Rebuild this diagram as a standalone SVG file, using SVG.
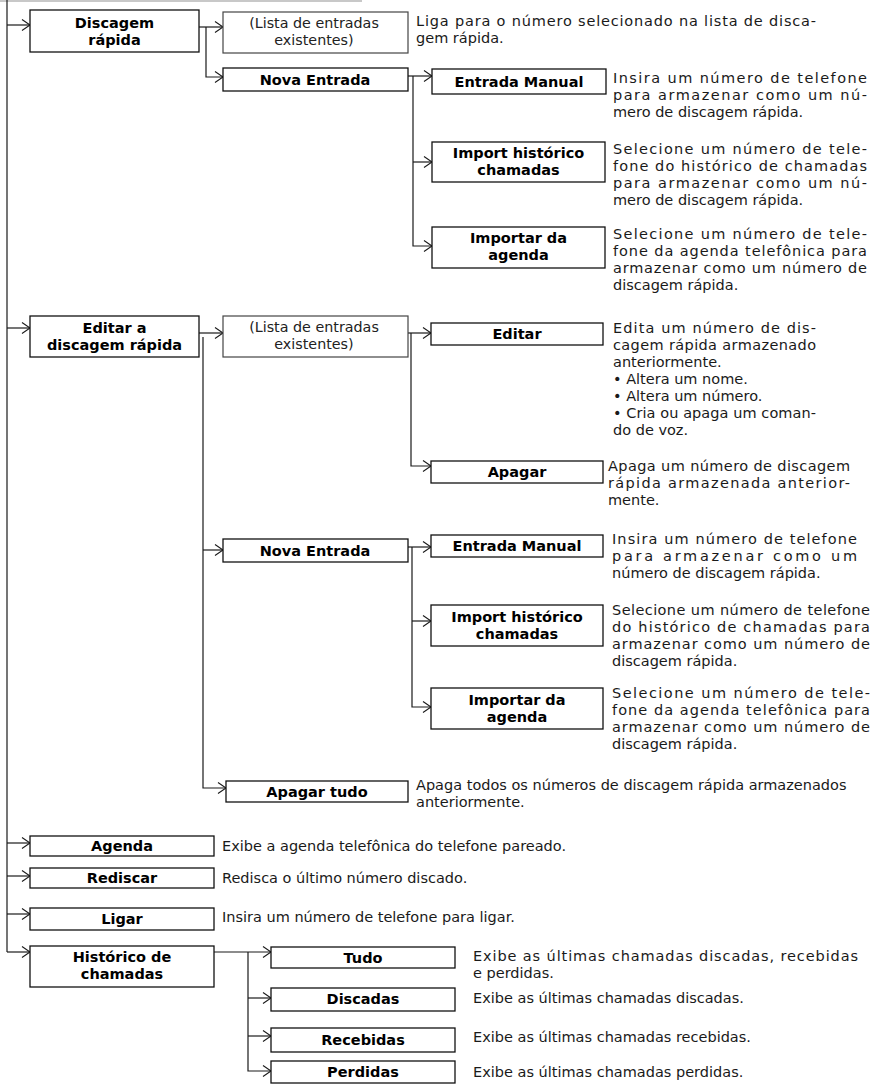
<svg xmlns="http://www.w3.org/2000/svg" width="875" height="1085" viewBox="0 0 875 1085">
<defs>
<style>
.box{fill:#fff;stroke:#111;stroke-width:1.3}
.lbox{fill:#fff;stroke:#444;stroke-width:1.2}
.lbl{font-family:"DejaVu Sans","Open Sans",sans-serif;font-weight:700;font-size:14.5px;fill:#000;text-anchor:middle}
.lst{font-family:"DejaVu Sans","Open Sans",sans-serif;font-size:14.3px;fill:#222;text-anchor:middle}
.dsc{font-family:"DejaVu Sans","Open Sans",sans-serif;font-size:14.5px;fill:#1a1a1a}
.con{fill:none;stroke:#1a1a1a;stroke-width:1.2}
.arr{fill:none;stroke:#1a1a1a;stroke-width:1.1}
</style>
<marker id="ar" viewBox="-9 -7 10 14" refX="0" refY="0" markerWidth="10" markerHeight="14" markerUnits="userSpaceOnUse" orient="auto">
<path class="arr" d="M-8,-5.5 L0,0 L-8,5.5"/>
</marker>
</defs>
<rect x="0" y="0" width="362" height="2" fill="#c8c8c8"/>

<g id="connectors">
<path class="con" d="M7,0 V952"/>
<path class="con" d="M7,25 H30" marker-end="url(#ar)"/>
<path class="con" d="M199,27 H223" marker-end="url(#ar)"/>
<path class="con" d="M206,27 V77 H223" marker-end="url(#ar)"/>
<path class="con" d="M408,76 H432" marker-end="url(#ar)"/>
<path class="con" d="M413,76 V246 H432" marker-end="url(#ar)"/>
<path class="con" d="M413,162 H432" marker-end="url(#ar)"/>
<path class="con" d="M7,328 H30" marker-end="url(#ar)"/>
<path class="con" d="M199,333 H223" marker-end="url(#ar)"/>
<path class="con" d="M203,337 V788 H226" marker-end="url(#ar)"/>
<path class="con" d="M203,550 H223" marker-end="url(#ar)"/>
<path class="con" d="M408,333 H431" marker-end="url(#ar)"/>
<path class="con" d="M411,333 V466 H431" marker-end="url(#ar)"/>
<path class="con" d="M408,547 H431" marker-end="url(#ar)"/>
<path class="con" d="M412,547 V707 H431" marker-end="url(#ar)"/>
<path class="con" d="M412,621 H431" marker-end="url(#ar)"/>
<path class="con" d="M7,843 H30" marker-end="url(#ar)"/>
<path class="con" d="M7,876 H30" marker-end="url(#ar)"/>
<path class="con" d="M7,914 H30" marker-end="url(#ar)"/>
<path class="con" d="M7,952 H30" marker-end="url(#ar)"/>
<path class="con" d="M214,952 H271" marker-end="url(#ar)"/>
<path class="con" d="M248,952 V1071 H271" marker-end="url(#ar)"/>
<path class="con" d="M248,998 H271" marker-end="url(#ar)"/>
<path class="con" d="M248,1036 H271" marker-end="url(#ar)"/>
</g>

<g id="discagem-rapida">
<rect class="box" x="30" y="10" width="169" height="42"/>
<text class="lbl"><tspan x="114.5" y="28">Discagem</tspan><tspan x="114.5" y="45">rápida</tspan></text>
</g>
<g id="lista-1">
<rect class="lbox" x="223" y="12" width="185" height="41"/>
<text class="lst"><tspan x="314" y="28">(Lista de entradas</tspan><tspan x="314" y="45">existentes)</tspan></text>
</g>
<g id="desc-lista-1">
<text class="dsc"><tspan x="416" y="26" textLength="400" lengthAdjust="spacing">Liga para o número selecionado na lista de disca-</tspan><tspan x="416" y="43">gem rápida.</tspan></text>
</g>
<g id="nova-entrada-1">
<rect class="box" x="223" y="68" width="185" height="23"/>
<text class="lbl" x="315" y="85">Nova Entrada</text>
</g>
<g id="entrada-manual-1">
<rect class="box" x="432" y="69" width="174" height="25"/>
<text class="lbl" x="519" y="87">Entrada Manual</text>
<text class="dsc"><tspan x="613" y="83" textLength="254" lengthAdjust="spacing">Insira um número de telefone</tspan><tspan x="613" y="100" textLength="254" lengthAdjust="spacing">para armazenar como um nú-</tspan><tspan x="613" y="117">mero de discagem rápida.</tspan></text>
</g>
<g id="import-historico-1">
<rect class="box" x="432" y="142" width="173" height="40"/>
<text class="lbl"><tspan x="518.5" y="158">Import histórico</tspan><tspan x="518.5" y="175">chamadas</tspan></text>
<text class="dsc"><tspan x="613" y="154" textLength="254" lengthAdjust="spacing">Selecione um número de tele-</tspan><tspan x="613" y="171" textLength="254" lengthAdjust="spacing">fone do histórico de chamadas</tspan><tspan x="613" y="188" textLength="254" lengthAdjust="spacing">para armazenar como um nú-</tspan><tspan x="613" y="205">mero de discagem rápida.</tspan></text>
</g>
<g id="importar-agenda-1">
<rect class="box" x="432" y="227" width="173" height="41"/>
<text class="lbl"><tspan x="518.5" y="243">Importar da</tspan><tspan x="518.5" y="260">agenda</tspan></text>
<text class="dsc"><tspan x="613" y="239" textLength="254" lengthAdjust="spacing">Selecione um número de tele-</tspan><tspan x="613" y="256" textLength="254" lengthAdjust="spacing">fone da agenda telefônica para</tspan><tspan x="613" y="273" textLength="254" lengthAdjust="spacing">armazenar como um número de</tspan><tspan x="613" y="290">discagem rápida.</tspan></text>
</g>

<g id="editar-discagem">
<rect class="box" x="30" y="316" width="169" height="41"/>
<text class="lbl"><tspan x="114.5" y="333">Editar a</tspan><tspan x="114.5" y="350">discagem rápida</tspan></text>
</g>
<g id="lista-2">
<rect class="lbox" x="223" y="316" width="185" height="41"/>
<text class="lst"><tspan x="314" y="332">(Lista de entradas</tspan><tspan x="314" y="349">existentes)</tspan></text>
</g>
<g id="editar">
<rect class="box" x="431" y="323" width="172" height="22"/>
<text class="lbl" x="517" y="339">Editar</text>
<text class="dsc"><tspan x="613" y="333" textLength="203" lengthAdjust="spacing">Edita um número de dis-</tspan><tspan x="613" y="350" textLength="203" lengthAdjust="spacing">cagem rápida armazenado</tspan><tspan x="613" y="367">anteriormente.</tspan><tspan x="613" y="384">• Altera um nome.</tspan><tspan x="613" y="401">• Altera um número.</tspan><tspan x="613" y="418" textLength="203" lengthAdjust="spacing">• Cria ou apaga um coman-</tspan><tspan x="613" y="435">do de voz.</tspan></text>
</g>
<g id="apagar">
<rect class="box" x="431" y="461" width="172" height="22"/>
<text class="lbl" x="517" y="477">Apagar</text>
<text class="dsc"><tspan x="608" y="471" textLength="242" lengthAdjust="spacing">Apaga um número de discagem</tspan><tspan x="608" y="488" textLength="242" lengthAdjust="spacing">rápida armazenada anterior-</tspan><tspan x="608" y="505">mente.</tspan></text>
</g>
<g id="nova-entrada-2">
<rect class="box" x="223" y="539" width="185" height="23"/>
<text class="lbl" x="315" y="556">Nova Entrada</text>
</g>
<g id="entrada-manual-2">
<rect class="box" x="431" y="535" width="172" height="22"/>
<text class="lbl" x="517" y="551">Entrada Manual</text>
<text class="dsc"><tspan x="612" y="544" textLength="245" lengthAdjust="spacing">Insira um número de telefone</tspan><tspan x="612" y="561" textLength="245" lengthAdjust="spacing">para armazenar como um</tspan><tspan x="612" y="578">número de discagem rápida.</tspan></text>
</g>
<g id="import-historico-2">
<rect class="box" x="431" y="605" width="172" height="41"/>
<text class="lbl"><tspan x="517" y="622">Import histórico</tspan><tspan x="517" y="639">chamadas</tspan></text>
<text class="dsc"><tspan x="612" y="615" textLength="258" lengthAdjust="spacing">Selecione um número de telefone</tspan><tspan x="612" y="632" textLength="258" lengthAdjust="spacing">do histórico de chamadas para</tspan><tspan x="612" y="649" textLength="258" lengthAdjust="spacing">armazenar como um número de</tspan><tspan x="612" y="666">discagem rápida.</tspan></text>
</g>
<g id="importar-agenda-2">
<rect class="box" x="431" y="688" width="172" height="41"/>
<text class="lbl"><tspan x="517" y="705">Importar da</tspan><tspan x="517" y="722">agenda</tspan></text>
<text class="dsc"><tspan x="612" y="698" textLength="258" lengthAdjust="spacing">Selecione um número de tele-</tspan><tspan x="612" y="715" textLength="258" lengthAdjust="spacing">fone da agenda telefônica para</tspan><tspan x="612" y="732" textLength="258" lengthAdjust="spacing">armazenar como um número de</tspan><tspan x="612" y="749">discagem rápida.</tspan></text>
</g>
<g id="apagar-tudo">
<rect class="box" x="226" y="781" width="182" height="21"/>
<text class="lbl" x="317" y="797">Apagar tudo</text>
<text class="dsc"><tspan x="416" y="790">Apaga todos os números de discagem rápida armazenados</tspan><tspan x="416" y="807">anteriormente.</tspan></text>
</g>

<g id="agenda">
<rect class="box" x="30" y="836" width="184" height="20"/>
<text class="lbl" x="122" y="851">Agenda</text>
<text class="dsc" x="222" y="851">Exibe a agenda telefônica do telefone pareado.</text>
</g>
<g id="rediscar">
<rect class="box" x="30" y="868" width="184" height="20"/>
<text class="lbl" x="122" y="883">Rediscar</text>
<text class="dsc" x="222" y="883">Redisca o último número discado.</text>
</g>
<g id="ligar">
<rect class="box" x="30" y="908" width="184" height="22"/>
<text class="lbl" x="122" y="924">Ligar</text>
<text class="dsc" x="222" y="922">Insira um número de telefone para ligar.</text>
</g>
<g id="historico">
<rect class="box" x="30" y="946" width="184" height="41"/>
<text class="lbl"><tspan x="122" y="962">Histórico de</tspan><tspan x="122" y="979">chamadas</tspan></text>
</g>
<g id="tudo">
<rect class="box" x="271" y="947" width="184" height="21"/>
<text class="lbl" x="363" y="963">Tudo</text>
<text class="dsc"><tspan x="473" y="961" textLength="385" lengthAdjust="spacing">Exibe as últimas chamadas discadas, recebidas</tspan><tspan x="473" y="978">e perdidas.</tspan></text>
</g>
<g id="discadas">
<rect class="box" x="271" y="988" width="184" height="23"/>
<text class="lbl" x="363" y="1004">Discadas</text>
<text class="dsc" x="473" y="1003">Exibe as últimas chamadas discadas.</text>
</g>
<g id="recebidas">
<rect class="box" x="271" y="1028" width="184" height="24"/>
<text class="lbl" x="363" y="1045">Recebidas</text>
<text class="dsc" x="473" y="1042">Exibe as últimas chamadas recebidas.</text>
</g>
<g id="perdidas">
<rect class="box" x="271" y="1061" width="184" height="22"/>
<text class="lbl" x="363" y="1077">Perdidas</text>
<text class="dsc" x="473" y="1077">Exibe as últimas chamadas perdidas.</text>
</g>
</svg>
